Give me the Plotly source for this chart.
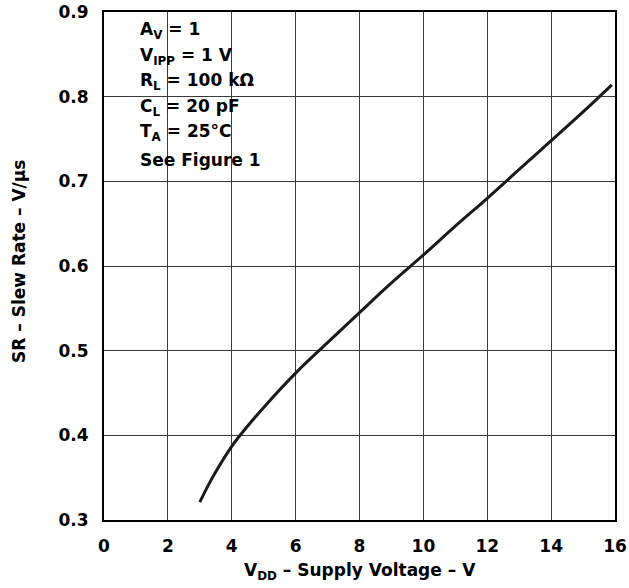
import plotly.graph_objects as go

# Data
vdd = [3.0, 3.25, 3.5, 4.0, 4.5, 5.0, 6.0, 7.0, 8.0, 9.0, 10.0, 11.0, 12.0, 13.0, 14.0, 15.0, 15.9]
slew_rate = [0.321, 0.340, 0.357, 0.387, 0.411, 0.433, 0.4735, 0.5095, 0.545, 0.580, 0.613, 0.647, 0.680, 0.714, 0.748, 0.782, 0.814]
x_ticks = [0, 2, 4, 6, 8, 10, 12, 14, 16]
y_ticks = [0.3, 0.4, 0.5, 0.6, 0.7, 0.8, 0.9]
y_tick_labels = ["0.3", "0.4", "0.5", "0.6", "0.7", "0.8", "0.9"]
conditions = [
    "A<sub>V</sub> = 1",
    "V<sub>IPP</sub> = 1 V",
    "R<sub>L</sub> = 100 kΩ",
    "C<sub>L</sub> = 20 pF",
    "T<sub>A</sub> = 25°C",
    "See Figure 1",
]
x_title = "V<sub>DD</sub> – Supply Voltage – V"
y_title = "SR – Slew Rate – V/μs"

FONT = "DejaVu Sans"
W, H = 629, 588
ML, MR, MT, MB = 104, 14, 12, 68
PW = W - ML - MR
PH = H - MT - MB

fig = go.Figure()
fig.add_trace(go.Scatter(
    x=vdd, y=slew_rate, mode="lines",
    line=dict(color="#1a1a1a", width=3, shape="spline", smoothing=1.0),
    showlegend=False, hoverinfo="skip",
))

def py(p):
    return (H - MB - p) / PH

def px(p):
    return (p - ML) / PW

# White box behind condition text (covers gridlines)
fig.add_shape(type="rect", xref="paper", yref="paper",
              x0=px(118), x1=px(283), y0=py(174), y1=py(18),
              fillcolor="white", line=dict(width=0), layer="between")

for i, t in enumerate(conditions):
    baseline = 40 + i * 25.6
    fig.add_annotation(text="<b>" + t + "</b>", xref="paper", yref="paper",
                       x=px(138), y=py(baseline),
                       xanchor="left", yanchor="bottom", showarrow=False,
                       font=dict(family=FONT, size=17, color="black"), yshift=-4)

# Axis titles
fig.add_annotation(text="<b>" + x_title + "</b>", xref="paper", yref="paper",
                   x=px(360), y=py(571), xanchor="center", yanchor="middle",
                   showarrow=False, font=dict(family=FONT, size=17, color="black"))
fig.add_annotation(text="<b>" + y_title + "</b>", xref="paper", yref="paper",
                   x=px(19), y=py(262), xanchor="center", yanchor="middle",
                   textangle=-90, showarrow=False,
                   font=dict(family=FONT, size=17, color="black"))

fig.update_layout(
    width=W, height=H,
    margin=dict(l=ML, r=MR, t=MT, b=MB, autoexpand=False),
    paper_bgcolor="white", plot_bgcolor="white",
    font=dict(family=FONT, size=17, color="black"),
    xaxis=dict(
        range=[0, 16], tickvals=x_ticks, ticktext=["<b>%d</b>" % v for v in x_ticks],
        showgrid=True, gridcolor="#3a3a3a", gridwidth=1,
        showline=True, linecolor="black", linewidth=2, mirror=True,
        ticks="", ticklabelstandoff=10, zeroline=False, automargin=False,
    ),
    yaxis=dict(
        range=[0.3, 0.9], tickvals=y_ticks, ticktext=["<b>%s</b>" % s for s in y_tick_labels],
        showgrid=True, gridcolor="#3a3a3a", gridwidth=1,
        showline=True, linecolor="black", linewidth=2, mirror=True,
        ticks="", ticklabelstandoff=10, zeroline=False, automargin=False,
    ),
)

fig.write_html("out.html", config={"displayModeBar": False},
               post_script="document.body.style.margin='0';document.body.style.overflow='hidden';")
